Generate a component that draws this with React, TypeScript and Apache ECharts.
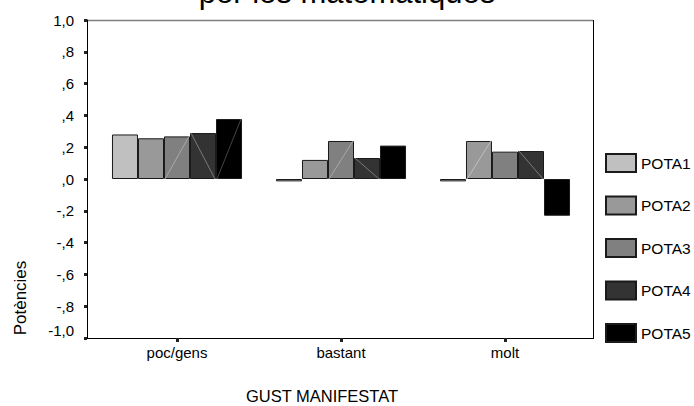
import React, { useEffect, useRef } from "react";
import * as echarts from "echarts";

const categories = ["poc/gens", "bastant", "molt"];
const seriesNames = ["POTA1", "POTA2", "POTA3", "POTA4", "POTA5"];
const pota1 = [0.28, -0.015, -0.015];
const pota2 = [0.256, 0.12, 0.239];
const pota3 = [0.268, 0.239, 0.172];
const pota4 = [0.289, 0.132, 0.176];
const pota5 = [0.377, 0.21, -0.231];
const seriesValues = [pota1, pota2, pota3, pota4, pota5];
const seriesColors = ["#c0c0c0", "#999999", "#808080", "#333333", "#000000"];
// [category index, series index, direction] of the faint diagonal hatch lines
const diagonals: [number, number, string][] = [
  [0, 2, "/"], [0, 3, "\\"], [0, 4, "/"],
  [1, 2, "/"], [1, 3, "\\"],
  [2, 1, "/"], [2, 3, "\\"],
];
const diagonalColors = ["#c8c8c8", "#c8c8c8", "#b4b4b4", "#8c8c8c", "#555555"];
const yTickValues = [-1, -0.8, -0.6, -0.4, -0.2, 0, 0.2, 0.4, 0.6, 0.8, 1];
const yTickLabels = ["-1,0", "-,8", "-,6", "-,4", "-,2", ",0", ",2", ",4", ",6", ",8", "1,0"];
const titleText = "per les matemàtiques";
const xName = "GUST MANIFESTAT";
const yName = "Potències";

const FONT = "Arial, 'Liberation Sans', sans-serif";
const CAT_GAP = 0.207;

export default function App() {
  const ref = useRef<HTMLDivElement>(null);
  useEffect(() => {
    if (!ref.current) return;
    const chart = echarts.init(ref.current, null, { renderer: "svg" });
    const diagData = diagonals.map(([c, s, d]) => [c, s, seriesValues[s][c], d === "/" ? 1 : -1]);
    const option: any = {
      animation: false,
      backgroundColor: "#ffffff",
      textStyle: { fontFamily: FONT },
      grid: { left: 95, right: 107, top: 20, bottom: 68, containLabel: false },
      legend: {
        orient: "vertical",
        left: 605,
        top: 153,
        padding: 0,
        itemWidth: 30,
        itemHeight: 18,
        itemGap: 22.5,
        icon: "rect",
        textStyle: { fontSize: 15.5, color: "#000", fontFamily: FONT },
        data: seriesNames,
      },
      xAxis: {
        type: "category",
        data: categories,
        axisLine: { show: false, onZero: false },
        axisTick: { show: true, alignWithLabel: true, length: 4, lineStyle: { width: 3, color: "#222" } },
        axisLabel: { color: "#000", fontSize: 15, margin: 7, fontFamily: FONT },
        splitLine: { show: false },
      },
      yAxis: {
        type: "value",
        min: -1,
        max: 1,
        interval: 0.2,
        offset: 8,
        axisLine: { show: true, lineStyle: { color: "#000", width: 1 } },
        axisTick: { show: true, length: 3, lineStyle: { width: 3, color: "#222" } },
        axisLabel: {
          color: "#000",
          fontSize: 15,
          margin: 13,
          fontFamily: FONT,
          formatter: (v: number) => {
            const i = yTickValues.findIndex((t) => Math.abs(t - v) < 1e-6);
            const s = i >= 0 ? yTickLabels[i] : "";
            return i === 0 ? "{low|" + s + "}" : s;
          },
          rich: { low: { fontSize: 15, color: "#000", fontFamily: FONT, padding: [0, 0, 16, 0] } },
        },
        splitLine: { show: false },
      },
      series: [
        ...seriesNames.map((name, i) => ({
          name,
          type: "bar",
          data: seriesValues[i],
          barGap: "0%",
          barCategoryGap: CAT_GAP * 100 + "%",
          itemStyle: { color: seriesColors[i], borderColor: "#1a1a1a", borderWidth: 1 },
        })),
        {
          type: "custom",
          name: "hatch",
          silent: true,
          z: 5,
          data: diagData,
          encode: { x: 0, y: 2 },
          renderItem: (params: any, api: any) => {
            const c = api.value(0);
            const s = api.value(1);
            const v = api.value(2);
            const dir = api.value(3);
            const base = api.coord([c, 0]);
            const top = api.coord([c, v]);
            const band = api.size([1, 0])[0];
            const barW = (band * (1 - CAT_GAP)) / 5;
            const x0 = base[0] - 2.5 * barW + s * barW;
            const x1 = x0 + barW;
            const shape =
              dir > 0
                ? { x1: x0 + 1, y1: base[1], x2: x1 - 1, y2: top[1] }
                : { x1: x0 + 1, y1: top[1], x2: x1 - 1, y2: base[1] };
            return {
              type: "line",
              shape,
              style: { stroke: diagonalColors[s], lineWidth: 0.8 },
            };
          },
        },
      ],
      graphic: [
        { type: "line", shape: { x1: 87, y1: 20.5, x2: 593, y2: 20.5 }, style: { stroke: "#808080", lineWidth: 1.5 } },
        { type: "line", shape: { x1: 593.5, y1: 20, x2: 593.5, y2: 338 }, style: { stroke: "#000", lineWidth: 1 } },
        { type: "line", shape: { x1: 87, y1: 338.5, x2: 594, y2: 338.5 }, style: { stroke: "#000", lineWidth: 1 } },
        {
          type: "text",
          x: 347,
          y: -8,
          style: { text: titleText, font: "31px " + FONT, fill: "#000", textAlign: "center", textVerticalAlign: "middle" },
        },
        {
          type: "text",
          x: 322,
          y: 396,
          style: { text: xName, font: "16.5px " + FONT, fill: "#000", textAlign: "center", textVerticalAlign: "middle" },
        },
        {
          type: "text",
          x: 20,
          y: 298,
          rotation: Math.PI / 2,
          style: { text: yName, font: "17px " + FONT, fill: "#000", textAlign: "center", textVerticalAlign: "middle" },
        },
      ],
    };
    chart.setOption(option);
    return () => chart.dispose();
  }, []);
  return (
    <div
      ref={ref}
      style={{ position: "fixed", left: 0, top: 0, width: 694, height: 406, background: "#fff" }}
    />
  );
}
